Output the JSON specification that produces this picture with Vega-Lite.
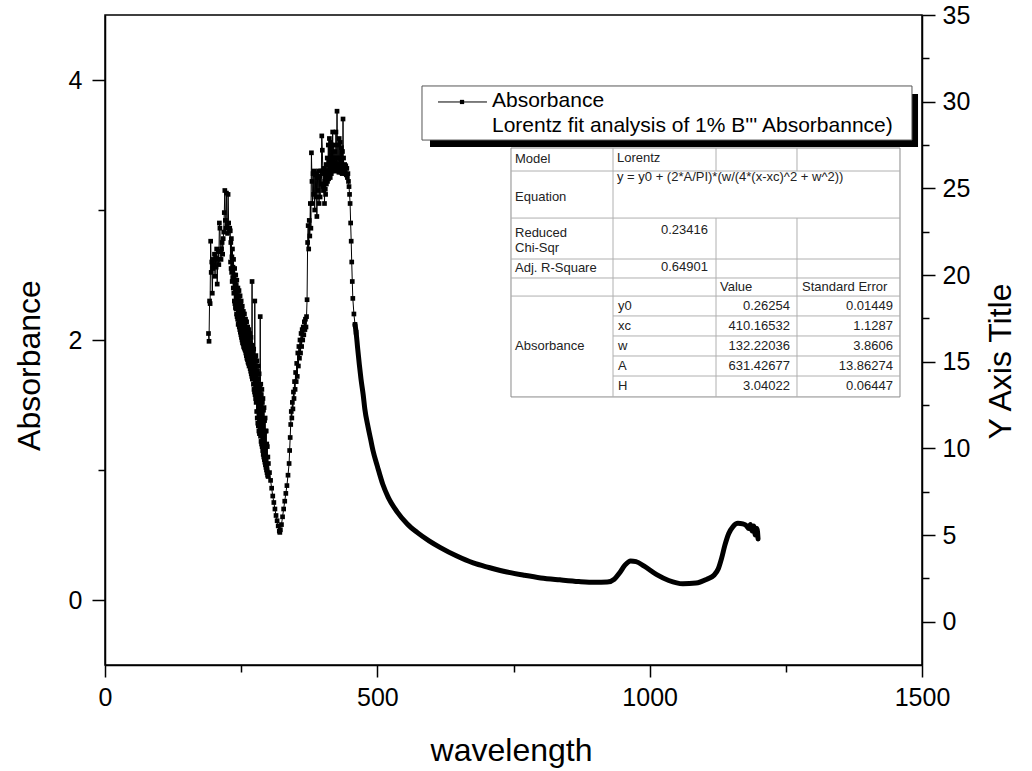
{
  "$schema": "https://vega.github.io/schema/vega-lite/v6.json",
  "width": 817,
  "height": 650,
  "autosize": {"type": "none"},
  "padding": {"left": 105, "top": 15, "right": 110, "bottom": 106},
  "background": "white",
  "config": {
    "font": "Liberation Sans",
    "view": {"stroke": "black", "strokeWidth": 1.5},
    "axis": {
      "domainColor": "black", "domainWidth": 1.5, "tickColor": "black", "tickWidth": 1.5,
      "labelColor": "black", "titleColor": "black", "labelFont": "Liberation Sans", "titleFont": "Liberation Sans",
      "labelFontSize": 25, "titleFontSize": 32, "titleFontWeight": "normal", "grid": false,
      "labelOverlap": false, "labelFlush": false, "labelBound": false
    }
  },
  "datasets": {
    "spectrum": [
      {"wl":190,"ab":2.05},{"wl":191,"ab":1.99},{"wl":192,"ab":2.30},{"wl":193,"ab":2.28},{"wl":194,"ab":2.76},{"wl":195,"ab":2.52},{"wl":196,"ab":2.60},{"wl":197,"ab":2.36},{"wl":198,"ab":2.55},{"wl":199,"ab":2.62},
      {"wl":200,"ab":2.58},{"wl":201,"ab":2.66},{"wl":202,"ab":2.49},{"wl":203,"ab":2.63},{"wl":204,"ab":2.56},{"wl":205,"ab":2.70},{"wl":206,"ab":2.43},{"wl":207,"ab":2.62},{"wl":208,"ab":2.68},{"wl":209,"ab":2.58},
      {"wl":210,"ab":2.90},{"wl":211,"ab":2.86},{"wl":212,"ab":2.68},{"wl":213,"ab":2.62},{"wl":214,"ab":2.70},{"wl":215,"ab":2.75},{"wl":216,"ab":2.66},{"wl":217,"ab":2.78},{"wl":218,"ab":2.83},{"wl":219,"ab":2.98},
      {"wl":220,"ab":3.15},{"wl":221,"ab":2.92},{"wl":222,"ab":2.86},{"wl":223,"ab":3.13},{"wl":224,"ab":2.88},{"wl":225,"ab":2.82},{"wl":226,"ab":3.12},{"wl":227,"ab":2.90},{"wl":228,"ab":2.84},{"wl":229,"ab":2.86},
      {"wl":230,"ab":2.84},{"wl":230.5,"ab":2.60},{"wl":231,"ab":2.75},{"wl":231.5,"ab":2.55},{"wl":232,"ab":2.78},{"wl":232.5,"ab":2.52},{"wl":233,"ab":2.64},{"wl":233.5,"ab":2.45},{"wl":234,"ab":2.70},{"wl":234.5,"ab":2.48},
      {"wl":235,"ab":2.56},{"wl":235.5,"ab":2.40},{"wl":236,"ab":2.62},{"wl":236.5,"ab":2.36},{"wl":237,"ab":2.50},{"wl":237.5,"ab":2.30},{"wl":238,"ab":2.55},{"wl":238.5,"ab":2.28},{"wl":239,"ab":2.45},{"wl":239.5,"ab":2.25},
      {"wl":240,"ab":2.50},{"wl":240.5,"ab":2.24},{"wl":241,"ab":2.42},{"wl":241.5,"ab":2.20},{"wl":242,"ab":2.46},{"wl":242.5,"ab":2.18},{"wl":243,"ab":2.38},{"wl":243.5,"ab":2.16},{"wl":244,"ab":2.40},{"wl":244.5,"ab":2.12},
      {"wl":245,"ab":2.34},{"wl":245.5,"ab":2.14},{"wl":246,"ab":2.38},{"wl":246.5,"ab":2.10},{"wl":247,"ab":2.30},{"wl":247.5,"ab":2.08},{"wl":248,"ab":2.34},{"wl":248.5,"ab":2.06},{"wl":249,"ab":2.28},{"wl":249.5,"ab":2.04},
      {"wl":250,"ab":2.30},{"wl":250.5,"ab":2.02},{"wl":251,"ab":2.24},{"wl":251.5,"ab":2.00},{"wl":252,"ab":2.26},{"wl":252.5,"ab":1.98},{"wl":253,"ab":2.20},{"wl":253.5,"ab":1.97},{"wl":254,"ab":2.22},{"wl":254.5,"ab":1.95},
      {"wl":255,"ab":2.16},{"wl":255.5,"ab":1.94},{"wl":256,"ab":2.20},{"wl":256.5,"ab":1.93},{"wl":257,"ab":2.14},{"wl":257.5,"ab":1.92},{"wl":258,"ab":2.16},{"wl":258.5,"ab":1.90},{"wl":259,"ab":2.10},{"wl":259.5,"ab":1.88},
      {"wl":260,"ab":2.14},{"wl":260.5,"ab":1.86},{"wl":261,"ab":2.08},{"wl":261.5,"ab":1.85},{"wl":262,"ab":2.10},{"wl":262.5,"ab":1.83},{"wl":263,"ab":2.06},{"wl":263.5,"ab":1.82},{"wl":264,"ab":2.08},{"wl":264.5,"ab":1.80},
      {"wl":265,"ab":2.02},{"wl":265.5,"ab":1.82},{"wl":266,"ab":2.05},{"wl":266.5,"ab":1.78},{"wl":267,"ab":1.98},{"wl":267.5,"ab":1.76},{"wl":268,"ab":2.02},{"wl":268.5,"ab":1.74},{"wl":269,"ab":1.95},{"wl":269.5,"ab":1.72},
      {"wl":270,"ab":2.45},{"wl":270.5,"ab":1.70},{"wl":271,"ab":1.96},{"wl":271.5,"ab":1.70},{"wl":272,"ab":1.90},{"wl":272.5,"ab":1.66},{"wl":273,"ab":1.93},{"wl":273.5,"ab":1.62},{"wl":274,"ab":1.86},{"wl":274.5,"ab":1.60},
      {"wl":275,"ab":2.30},{"wl":275.5,"ab":1.58},{"wl":276,"ab":1.85},{"wl":276.5,"ab":1.55},{"wl":277,"ab":1.88},{"wl":277.5,"ab":1.52},{"wl":278,"ab":1.80},{"wl":278.5,"ab":1.45},{"wl":279,"ab":1.84},{"wl":279.5,"ab":1.40},
      {"wl":280,"ab":1.76},{"wl":280.5,"ab":1.36},{"wl":281,"ab":1.80},{"wl":281.5,"ab":1.34},{"wl":282,"ab":1.70},{"wl":282.5,"ab":1.30},{"wl":283,"ab":1.74},{"wl":283.5,"ab":1.28},{"wl":284,"ab":1.64},{"wl":284.5,"ab":1.32},
      {"wl":285,"ab":2.18},{"wl":285.5,"ab":1.26},{"wl":286,"ab":1.66},{"wl":286.5,"ab":1.22},{"wl":287,"ab":1.58},{"wl":287.5,"ab":1.20},{"wl":288,"ab":1.62},{"wl":288.5,"ab":1.18},{"wl":289,"ab":1.52},{"wl":289.5,"ab":1.15},
      {"wl":290,"ab":1.55},{"wl":290.5,"ab":1.12},{"wl":291,"ab":1.46},{"wl":291.5,"ab":1.10},{"wl":292,"ab":1.48},{"wl":292.5,"ab":1.08},{"wl":293,"ab":1.38},{"wl":293.5,"ab":1.06},{"wl":294,"ab":1.40},{"wl":294.5,"ab":1.04},
      {"wl":295,"ab":1.30},{"wl":295.5,"ab":1.02},{"wl":296,"ab":1.30},{"wl":296.5,"ab":1.00},{"wl":297,"ab":1.20},{"wl":297.5,"ab":0.98},{"wl":298,"ab":1.18},{"wl":298.5,"ab":0.96},{"wl":299,"ab":1.10},{"wl":299.5,"ab":0.95},
      {"wl":300,"ab":1.05},{"wl":302,"ab":0.98},{"wl":304,"ab":0.92},{"wl":306,"ab":0.86},{"wl":308,"ab":0.80},{"wl":310,"ab":0.75},{"wl":312,"ab":0.70},{"wl":314,"ab":0.65},{"wl":316,"ab":0.61},{"wl":318,"ab":0.57},
      {"wl":320,"ab":0.53},{"wl":321,"ab":0.52},{"wl":322,"ab":0.54},{"wl":324,"ab":0.58},{"wl":326,"ab":0.64},{"wl":328,"ab":0.70},{"wl":330,"ab":0.76},{"wl":332,"ab":0.82},{"wl":334,"ab":0.88},{"wl":336,"ab":0.96},
      {"wl":338,"ab":1.05},{"wl":339,"ab":1.15},{"wl":340,"ab":1.25},{"wl":341,"ab":1.35},{"wl":342,"ab":1.45},{"wl":343,"ab":1.40},{"wl":344,"ab":1.52},{"wl":345,"ab":1.47},{"wl":346,"ab":1.60},{"wl":347,"ab":1.55},
      {"wl":348,"ab":1.68},{"wl":349,"ab":1.62},{"wl":350,"ab":1.75},{"wl":351,"ab":1.68},{"wl":352,"ab":1.82},{"wl":353,"ab":1.72},{"wl":354,"ab":1.90},{"wl":355,"ab":1.80},{"wl":356,"ab":1.95},{"wl":357,"ab":1.86},
      {"wl":358,"ab":2.00},{"wl":359,"ab":1.90},{"wl":360,"ab":2.05},{"wl":361,"ab":1.95},{"wl":362,"ab":2.08},{"wl":363,"ab":2.00},{"wl":364,"ab":2.10},{"wl":365,"ab":2.04},{"wl":366,"ab":2.14},{"wl":367,"ab":2.08},
      {"wl":368,"ab":2.16},{"wl":369,"ab":2.10},{"wl":370,"ab":2.18},{"wl":371,"ab":2.31},{"wl":372,"ab":2.75},{"wl":373,"ab":2.88},{"wl":374,"ab":2.70},{"wl":375,"ab":2.92},{"wl":376,"ab":2.80},{"wl":377,"ab":3.05},
      {"wl":378,"ab":2.86},{"wl":379,"ab":3.44},{"wl":380,"ab":3.22},{"wl":381,"ab":3.05},{"wl":382,"ab":3.28},{"wl":383,"ab":3.12},{"wl":384,"ab":3.30},{"wl":385,"ab":3.00},{"wl":386,"ab":3.27},{"wl":387,"ab":3.10},
      {"wl":388,"ab":3.28},{"wl":389,"ab":2.95},{"wl":390,"ab":3.25},{"wl":391,"ab":3.15},{"wl":392,"ab":3.30},{"wl":393,"ab":3.05},{"wl":394,"ab":3.26},{"wl":395,"ab":3.10},{"wl":396,"ab":3.30},{"wl":397,"ab":3.20},
      {"wl":398,"ab":3.57},{"wl":399,"ab":3.46},{"wl":400,"ab":3.30},{"wl":400.5,"ab":3.18},{"wl":401,"ab":3.15},{"wl":401.5,"ab":3.28},{"wl":402,"ab":3.32},{"wl":402.5,"ab":3.20},{"wl":403,"ab":3.05},{"wl":403.5,"ab":3.22},
      {"wl":404,"ab":3.28},{"wl":404.5,"ab":3.16},{"wl":405,"ab":3.12},{"wl":405.5,"ab":3.25},{"wl":406,"ab":3.35},{"wl":406.5,"ab":3.20},{"wl":407,"ab":3.25},{"wl":407.5,"ab":3.30},{"wl":408,"ab":3.40},{"wl":408.5,"ab":3.22},
      {"wl":409,"ab":3.30},{"wl":409.5,"ab":3.26},{"wl":410,"ab":3.50},{"wl":410.5,"ab":3.24},{"wl":411,"ab":3.38},{"wl":411.5,"ab":3.28},{"wl":412,"ab":3.55},{"wl":412.5,"ab":3.30},{"wl":413,"ab":3.35},{"wl":413.5,"ab":3.25},
      {"wl":414,"ab":3.52},{"wl":414.5,"ab":3.32},{"wl":415,"ab":3.40},{"wl":415.5,"ab":3.28},{"wl":416,"ab":3.50},{"wl":416.5,"ab":3.34},{"wl":417,"ab":3.32},{"wl":417.5,"ab":3.30},{"wl":418,"ab":3.60},{"wl":418.5,"ab":3.33},
      {"wl":419,"ab":3.38},{"wl":419.5,"ab":3.31},{"wl":420,"ab":3.50},{"wl":420.5,"ab":3.34},{"wl":421,"ab":3.40},{"wl":421.5,"ab":3.30},{"wl":422,"ab":3.45},{"wl":422.5,"ab":3.33},{"wl":423,"ab":3.36},{"wl":423.5,"ab":3.31},
      {"wl":424,"ab":3.60},{"wl":424.5,"ab":3.34},{"wl":425,"ab":3.40},{"wl":425.5,"ab":3.32},{"wl":426,"ab":3.76},{"wl":426.5,"ab":3.35},{"wl":427,"ab":3.35},{"wl":427.5,"ab":3.30},{"wl":428,"ab":3.50},{"wl":428.5,"ab":3.33},
      {"wl":429,"ab":3.33},{"wl":429.5,"ab":3.29},{"wl":430,"ab":3.55},{"wl":430.5,"ab":3.32},{"wl":431,"ab":3.40},{"wl":431.5,"ab":3.30},{"wl":432,"ab":3.52},{"wl":432.5,"ab":3.31},{"wl":433,"ab":3.38},{"wl":433.5,"ab":3.29},
      {"wl":434,"ab":3.48},{"wl":434.5,"ab":3.32},{"wl":435,"ab":3.34},{"wl":435.5,"ab":3.28},{"wl":436,"ab":3.45},{"wl":436.5,"ab":3.30},{"wl":437,"ab":3.70},{"wl":437.5,"ab":3.33},{"wl":438,"ab":3.40},{"wl":438.5,"ab":3.29},
      {"wl":439,"ab":3.30},{"wl":440,"ab":3.35},{"wl":441,"ab":3.28},{"wl":442,"ab":3.34},{"wl":443,"ab":3.27},{"wl":444,"ab":3.32},{"wl":445,"ab":3.25},{"wl":446,"ab":3.28},{"wl":447,"ab":3.22},
      {"wl":448,"ab":3.18},{"wl":449,"ab":3.12},{"wl":450,"ab":3.05},{"wl":451,"ab":2.90},{"wl":452,"ab":2.76},{"wl":453,"ab":2.60},{"wl":454,"ab":2.45},{"wl":455,"ab":2.32},{"wl":457,"ab":2.20},{"wl":459,"ab":2.12},
      {"wl":461,"ab":2.06},{"wl":464,"ab":1.93},{"wl":467,"ab":1.81},{"wl":470,"ab":1.70},{"wl":474,"ab":1.58},{"wl":477,"ab":1.47},{"wl":483,"ab":1.33},{"wl":488,"ab":1.23},{"wl":492,"ab":1.15},{"wl":500,"ab":1.03},
      {"wl":510,"ab":0.89},{"wl":520,"ab":0.79},{"wl":536,"ab":0.68},{"wl":555,"ab":0.585},{"wl":573,"ab":0.52},{"wl":595,"ab":0.455},{"wl":615,"ab":0.405},{"wl":645,"ab":0.34},{"wl":676,"ab":0.285},{"wl":705,"ab":0.25},
      {"wl":738,"ab":0.215},{"wl":770,"ab":0.19},{"wl":800,"ab":0.17},{"wl":835,"ab":0.155},{"wl":870,"ab":0.142},{"wl":900,"ab":0.136},{"wl":922,"ab":0.138},{"wl":935,"ab":0.16},{"wl":945,"ab":0.21},{"wl":955,"ab":0.27},
      {"wl":965,"ab":0.30},{"wl":975,"ab":0.295},{"wl":990,"ab":0.26},{"wl":1013,"ab":0.195},{"wl":1035,"ab":0.15},{"wl":1061,"ab":0.125},{"wl":1085,"ab":0.13},{"wl":1105,"ab":0.16},{"wl":1118,"ab":0.19},{"wl":1126,"ab":0.24},
      {"wl":1132,"ab":0.32},{"wl":1138,"ab":0.42},{"wl":1145,"ab":0.51},{"wl":1153,"ab":0.565},{"wl":1162,"ab":0.59},{"wl":1171,"ab":0.585},{"wl":1178,"ab":0.57},{"wl":1182,"ab":0.55},{"wl":1185,"ab":0.58},{"wl":1188,"ab":0.53},
      {"wl":1191,"ab":0.57},{"wl":1194,"ab":0.50},{"wl":1197,"ab":0.55},{"wl":1199,"ab":0.47}
    ],
    "tableText": [
      {"wl":752.8,"ab":3.392,"text":"Model","kind":"l"},
      {"wl":940.0,"ab":3.400,"text":"Lorentz","kind":"l"},
      {"wl":940.0,"ab":3.254,"text":"y = y0 + (2*A/PI)*(w/(4*(x-xc)^2 + w^2))","kind":"l"},
      {"wl":752.8,"ab":3.100,"text":"Equation","kind":"l"},
      {"wl":752.8,"ab":2.823,"text":"Reduced","kind":"l"},
      {"wl":752.8,"ab":2.708,"text":"Chi-Sqr","kind":"l"},
      {"wl":752.8,"ab":2.554,"text":"Adj. R-Square","kind":"l"},
      {"wl":1129.1,"ab":2.408,"text":"Value","kind":"l"},
      {"wl":1279.7,"ab":2.408,"text":"Standard Error","kind":"l"},
      {"wl":752.8,"ab":1.954,"text":"Absorbance","kind":"l"},
      {"wl":941.9,"ab":2.262,"text":"y0","kind":"l"},
      {"wl":941.9,"ab":2.108,"text":"xc","kind":"l"},
      {"wl":941.9,"ab":1.954,"text":"w","kind":"l"},
      {"wl":941.9,"ab":1.800,"text":"A","kind":"l"},
      {"wl":941.9,"ab":1.646,"text":"H","kind":"l"},
      {"wl":1107.1,"ab":2.846,"text":"0.23416","kind":"n"},
      {"wl":1107.1,"ab":2.562,"text":"0.64901","kind":"n"},
      {"wl":1257.6,"ab":2.262,"text":"0.26254","kind":"n"},
      {"wl":1257.6,"ab":2.108,"text":"410.16532","kind":"n"},
      {"wl":1257.6,"ab":1.954,"text":"132.22036","kind":"n"},
      {"wl":1257.6,"ab":1.800,"text":"631.42677","kind":"n"},
      {"wl":1257.6,"ab":1.646,"text":"3.04022","kind":"n"},
      {"wl":1446.8,"ab":2.262,"text":"0.01449","kind":"n"},
      {"wl":1446.8,"ab":2.108,"text":"1.1287","kind":"n"},
      {"wl":1446.8,"ab":1.954,"text":"3.8606","kind":"n"},
      {"wl":1446.8,"ab":1.800,"text":"13.86274","kind":"n"},
      {"wl":1446.8,"ab":1.646,"text":"0.06447","kind":"n"}
    ],
    "tableHLines": [
      {"wl":745.4,"wl2":1459.6,"ab":3.300},
      {"wl":745.4,"wl2":1459.6,"ab":2.938},
      {"wl":745.4,"wl2":1459.6,"ab":2.623},
      {"wl":745.4,"wl2":1459.6,"ab":2.477},
      {"wl":745.4,"wl2":1459.6,"ab":2.338},
      {"wl":932.7,"wl2":1459.6,"ab":2.185},
      {"wl":932.7,"wl2":1459.6,"ab":2.031},
      {"wl":932.7,"wl2":1459.6,"ab":1.877},
      {"wl":932.7,"wl2":1459.6,"ab":1.723}
    ],
    "tableVLines": [
      {"wl":932.7,"ab":3.477,"ab2":1.562},
      {"wl":1121.8,"ab":3.477,"ab2":3.300},
      {"wl":1270.5,"ab":3.477,"ab2":3.300},
      {"wl":1121.8,"ab":2.938,"ab2":1.562},
      {"wl":1270.5,"ab":2.938,"ab2":1.562}
    ]
  },
  "layer": [
    {
      "layer": [
        {
          "data": {"name": "spectrum"},
          "transform": [{"filter": "datum.wl <= 462"}],
          "mark": {"type": "line", "color": "black", "strokeWidth": 1},
          "encoding": {
            "x": {"field": "wl", "type": "quantitative", "scale": {"domain": [0, 1500], "nice": false, "zero": false},
              "axis": {"orient": "bottom", "title": "wavelength", "values": [0,250,500,750,1000,1250,1500], "format": "d",
                "labelExpr": "datum.value % 500 === 0 ? datum.label : ''", "labelPadding": 8,
                "tickSize": {"condition": {"test": "datum.value % 500 === 0", "value": 12}, "value": 7},
                "titleX": 406, "titleY": 95, "titleAlign": "center", "titleBaseline": "alphabetic"}},
            "y": {"field": "ab", "type": "quantitative", "scale": {"domain": [-0.5, 4.5], "nice": false, "zero": false},
              "axis": {"orient": "left", "title": "Absorbance", "values": [0,1,2,3,4], "format": "d",
                "labelExpr": "datum.value % 2 === 0 ? datum.label : ''", "labelPadding": 10,
                "tickSize": {"condition": {"test": "datum.value % 2 === 0", "value": 13}, "value": 7},
                "titleX": -76, "titleY": 350, "titleAngle": 270, "titleAlign": "center", "titleBaseline": "middle"}}
          }
        },
        {
          "data": {"name": "spectrum"},
          "transform": [{"filter": "datum.wl <= 462"}],
          "mark": {"type": "square", "color": "black", "filled": true, "size": 22, "opacity": 1},
          "encoding": {
            "x": {"field": "wl", "type": "quantitative"},
            "y": {"field": "ab", "type": "quantitative"}
          }
        },
        {
          "data": {"name": "spectrum"},
          "transform": [{"filter": "datum.wl >= 459"}],
          "mark": {"type": "line", "color": "black", "strokeWidth": 5, "interpolate": "monotone", "strokeCap": "round"},
          "encoding": {
            "x": {"field": "wl", "type": "quantitative"},
            "y": {"field": "ab", "type": "quantitative"}
          }
        },
        {
          "data": {"values": [{"wl": 596.7, "wl2": 1492.7, "ab": 3.892, "ab2": 3.485}]},
          "mark": {"type": "rect", "fill": "black"},
          "encoding": {
            "x": {"field": "wl", "type": "quantitative"},
            "x2": {"field": "wl2"},
            "y": {"field": "ab", "type": "quantitative"},
            "y2": {"field": "ab2"}
          }
        },
        {
          "data": {"values": [{"wl": 582.0, "wl2": 1481.6, "ab": 3.954, "ab2": 3.538}]},
          "mark": {"type": "rect", "fill": "white", "stroke": "#555", "strokeWidth": 1},
          "encoding": {
            "x": {"field": "wl", "type": "quantitative"},
            "x2": {"field": "wl2"},
            "y": {"field": "ab", "type": "quantitative"},
            "y2": {"field": "ab2"}
          }
        },
        {
          "data": {"values": [{"wl": 611.4, "wl2": 701.3, "ab": 3.831}]},
          "mark": {"type": "rule", "color": "black", "strokeWidth": 1},
          "encoding": {
            "x": {"field": "wl", "type": "quantitative"},
            "x2": {"field": "wl2"},
            "y": {"field": "ab", "type": "quantitative"}
          }
        },
        {
          "data": {"values": [{"wl": 655.5, "ab": 3.831}]},
          "mark": {"type": "square", "color": "black", "filled": true, "size": 18, "opacity": 1},
          "encoding": {
            "x": {"field": "wl", "type": "quantitative"},
            "y": {"field": "ab", "type": "quantitative"}
          }
        },
        {
          "data": {"values": [
            {"wl": 710.5, "ab": 3.838, "text": "Absorbance"},
            {"wl": 710.5, "ab": 3.646, "text": "Lorentz fit analysis of 1% B''' Absorbannce)"}
          ]},
          "mark": {"type": "text", "align": "left", "baseline": "middle", "fontSize": 21, "color": "black", "font": "Liberation Sans"},
          "encoding": {
            "x": {"field": "wl", "type": "quantitative"},
            "y": {"field": "ab", "type": "quantitative"},
            "text": {"field": "text"}
          }
        },
        {
          "data": {"values": [{"wl": 745.4, "wl2": 1459.6, "ab": 3.477, "ab2": 1.562}]},
          "mark": {"type": "rect", "fill": "white", "stroke": "#8a8a8a", "strokeWidth": 1},
          "encoding": {
            "x": {"field": "wl", "type": "quantitative"},
            "x2": {"field": "wl2"},
            "y": {"field": "ab", "type": "quantitative"},
            "y2": {"field": "ab2"}
          }
        },
        {
          "data": {"name": "tableHLines"},
          "mark": {"type": "rule", "color": "#b0b0b0", "strokeWidth": 1},
          "encoding": {
            "x": {"field": "wl", "type": "quantitative"},
            "x2": {"field": "wl2"},
            "y": {"field": "ab", "type": "quantitative"}
          }
        },
        {
          "data": {"name": "tableVLines"},
          "mark": {"type": "rule", "color": "#b0b0b0", "strokeWidth": 1},
          "encoding": {
            "x": {"field": "wl", "type": "quantitative"},
            "y": {"field": "ab", "type": "quantitative"},
            "y2": {"field": "ab2"}
          }
        },
        {
          "data": {"name": "tableText"},
          "transform": [{"filter": "datum.kind === 'l'"}],
          "mark": {"type": "text", "align": "left", "baseline": "middle", "fontSize": 13, "color": "#222", "font": "Liberation Sans"},
          "encoding": {
            "x": {"field": "wl", "type": "quantitative"},
            "y": {"field": "ab", "type": "quantitative"},
            "text": {"field": "text"}
          }
        },
        {
          "data": {"name": "tableText"},
          "transform": [{"filter": "datum.kind === 'n'"}],
          "mark": {"type": "text", "align": "right", "baseline": "middle", "fontSize": 13, "color": "#222", "font": "Liberation Sans"},
          "encoding": {
            "x": {"field": "wl", "type": "quantitative"},
            "y": {"field": "ab", "type": "quantitative"},
            "text": {"field": "text"}
          }
        }
      ]
    },
    {
      "data": {"values": [{"r": -2.5}, {"r": 35}]},
      "mark": {"type": "point", "opacity": 0},
      "encoding": {
        "y": {"field": "r", "type": "quantitative", "scale": {"domain": [-2.5, 35], "nice": false, "zero": false},
          "axis": {"orient": "right", "title": "Y Axis Title", "values": [0,2.5,5,7.5,10,12.5,15,17.5,20,22.5,25,27.5,30,32.5,35],
            "labelExpr": "datum.value % 5 === 0 ? datum.label : ''", "labelPadding": 7,
            "tickSize": {"condition": {"test": "datum.value % 5 === 0", "value": 13}, "value": 7},
            "titleX": 78, "titleY": 346, "titleAngle": 270, "titleAlign": "center", "titleBaseline": "middle"}}
      }
    }
  ],
  "resolve": {"scale": {"y": "independent"}}
}
